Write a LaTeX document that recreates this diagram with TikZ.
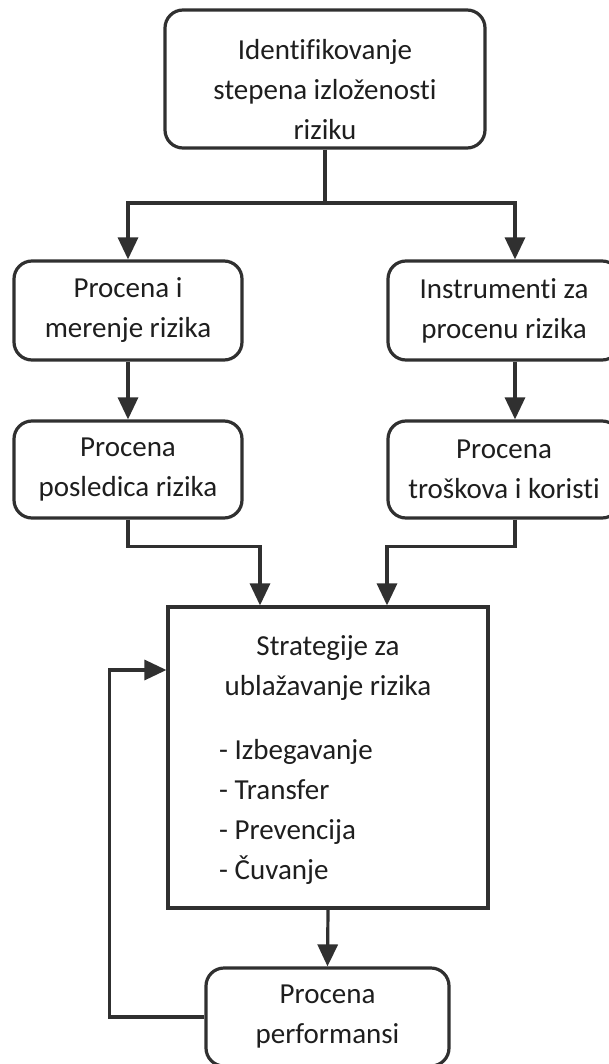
\documentclass[tikz,border=0pt]{standalone}
\usepackage{fontspec}
\setmainfont{Carlito}[Ligatures=NoCommon]
\usetikzlibrary{arrows.meta}
\definecolor{ln}{HTML}{303030}
\definecolor{tx}{HTML}{1E1E1E}
\begin{document}
\begin{tikzpicture}[x=1pt,y=-1pt,
  every node/.style={font=\fontsize{29}{40}\selectfont, text=tx},
  rbox/.style={draw=ln, line width=3.2pt, rounded corners=18pt, inner sep=0pt, align=center},
  sbox/.style={draw=ln, line width=3.2pt, inner sep=0pt},
  txt/.style={inner sep=0pt, align=center},
  arr/.style={draw=ln, line width=3.2pt, -{Triangle[length=22pt,width=20pt]}},
  ln/.style={draw=ln, line width=3.2pt}]
\useasboundingbox (0,0) rectangle (608,1064);
\fill[white] (0,0) rectangle (608,1064);

% top box
\node[rbox, minimum width=320pt, minimum height=138pt] (top) at (325,79) {};
\node[txt] (toptxt) at (325,90) {Identifikovanje\\stepena izloženosti\\riziku};

% second row
\node[rbox, minimum width=228pt, minimum height=99pt] (A) at (128,310.5) {Procena i\\merenje rizika};
\node[rbox, minimum width=232pt, minimum height=99pt] (B) at (504,310.5) {Instrumenti za\\procenu rizika};

% third row
\node[rbox, minimum width=228pt, minimum height=97pt] (C) at (128,469.5) {Procena\\posledica rizika};
\node[rbox, minimum width=232pt, minimum height=97pt] (D) at (504,469.5) {Procena\\troškova i koristi};

% strategy box
\node[sbox, minimum width=320pt, minimum height=301pt] (S) at (328,757.5) {};
\node[txt] (stitle) at (328,668) {Strategije za\\ublažavanje rizika};
\node[txt, align=left, anchor=west] (slist) at (219,812) {- Izbegavanje\\- Transfer\\- Prevencija\\- Čuvanje};

% bottom box
\node[rbox, minimum width=243pt, minimum height=98pt] (P) at (327.5,1017) {Procena\\performansi};

% connectors
\coordinate (split) at (top.south |- 0,203);
\draw[ln] (top.south) -- (split);
\draw[arr] (split) -| (A.north);
\draw[arr] (split) -| ([xshift=11pt]B.north);
\draw[arr] (A.south) -- (C.north);
\draw[arr] ([xshift=11pt]B.south) -- ([xshift=11pt]D.north);
\draw[arr] (C.south) -- ++(0,27) -| ([xshift=-68pt]S.north);
\draw[arr] ([xshift=11pt]D.south) -- ++(0,27) -| ([xshift=59pt]S.north);
\draw[arr] (S.south) -- (P.north);
\draw[arr] (P.west) -- ++(-95,0) |- ([yshift=87.5pt]S.west);
\end{tikzpicture}
\end{document}
